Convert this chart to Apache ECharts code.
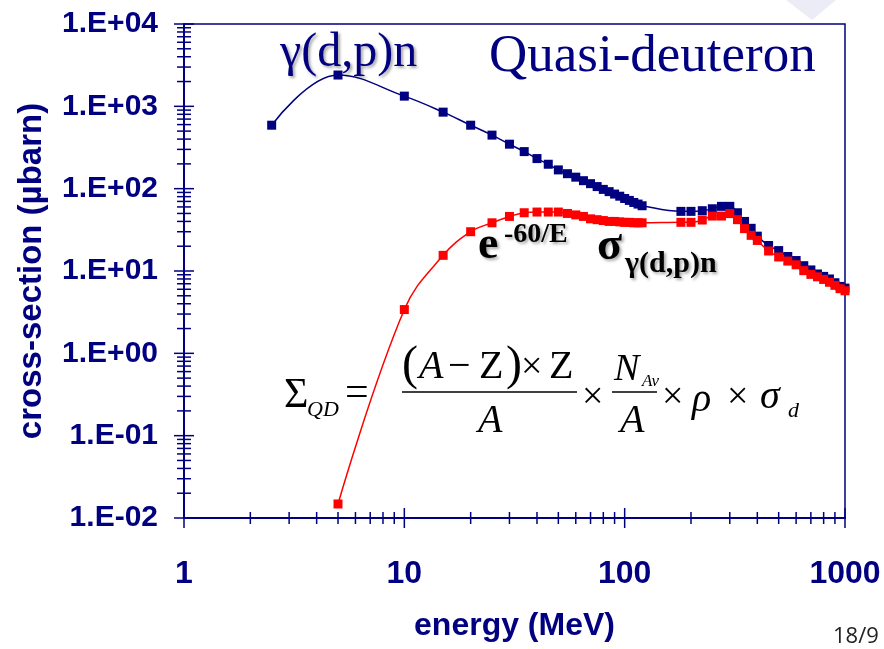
<!DOCTYPE html>
<html><head><meta charset="utf-8">
<script src="https://cdn.jsdelivr.net/npm/echarts@6/dist/echarts.min.js"></script>
<style>html,body{margin:0;padding:0;background:#fff;}#c{width:884px;height:649px;}</style>
</head><body><div id="c"></div>
<script>
// ---- data ----
const energyTotal = [2.5, 5, 10, 15, 20, 25, 30, 35, 40, 45, 50, 55, 60, 65, 70, 75, 80, 85, 90, 95, 100, 105, 110, 115, 120, 180, 200, 225, 250, 275, 300, 325, 350, 375, 400, 450, 500, 550, 600, 650, 700, 750, 800, 850, 900, 950, 1000];
const sigmaTotal = [590, 2400, 1330, 850, 590, 447, 347, 282, 232, 198, 169, 152, 138, 125, 115, 106, 98, 92, 86, 81, 76, 72, 68, 65, 62, 53, 53, 54, 57, 61, 61, 51, 40, 33, 26.5, 20.4, 17.7, 15.0, 13.4, 11.6, 10.3, 9.2, 8.6, 8.0, 7.2, 6.5, 6.2];
const energyQD = [5, 10, 15, 20, 25, 30, 35, 40, 45, 50, 55, 60, 65, 70, 75, 80, 85, 90, 95, 100, 105, 110, 115, 120, 180, 200, 225, 250, 275, 300, 325, 350, 375, 400, 450, 500, 550, 600, 650, 700, 750, 800, 850, 900, 950, 1000];
const sigmaQD = [0.0148, 3.4, 15.5, 30, 38.5, 46, 51, 52, 52, 52, 50, 48, 46, 43, 42, 41, 40, 40, 39.5, 39, 39, 38.5, 38.5, 38.5, 39, 39, 41.6, 46.5, 46.5, 49.8, 42, 32.7, 27.1, 23.5, 17.5, 14.8, 13.2, 11.9, 10.1, 9.1, 8.5, 7.9, 7.3, 6.7, 6.1, 5.75];
const xMajorTicks = [1, 10, 100, 1000];
const xMinorTicks = [2,3,4,5,6,7,8,9,20,30,40,50,60,70,80,90,200,300,400,500,600,700,800,900];
const yMajorTicks = [0.01, 0.1, 1, 10, 100, 1000, 10000];
const yTickLabels = ['1.E-02','1.E-01','1.E+00','1.E+01','1.E+02','1.E+03','1.E+04'];
const yMinorTicks = [];
[0.01, 0.1, 1, 10, 100, 1000].forEach(d => { for (let k = 2; k <= 9; k++) yMinorTicks.push(+(d * k).toPrecision(3)); });

const NAVY = '#000080';
const RED = '#ff0000';
const X_MIN = 1, X_MAX = 1000, Y_MIN = 0.01, Y_MAX = 10000;

function tickSeries(values, axis, half) {
  return {
    type: 'custom', silent: true, clip: false, z: 6,
    data: values.map(v => axis === 'x' ? [v, Y_MIN] : [X_MIN, v]),
    renderItem: (params, api) => {
      const p = api.coord([api.value(0), api.value(1)]);
      const shape = axis === 'x'
        ? { x1: p[0], y1: p[1] - half, x2: p[0], y2: p[1] + half }
        : { x1: p[0] - half, y1: p[1], x2: p[0] + half, y2: p[1] };
      return { type: 'line', shape, style: { stroke: NAVY, lineWidth: 1.5 } };
    }
  };
}

const sans = '"Liberation Sans",Arial,sans-serif';
const serif = '"Liberation Serif","Times New Roman",serif';
const shadow = { textShadowColor: 'rgba(0,0,0,0.35)', textShadowBlur: 3, textShadowOffsetX: 2, textShadowOffsetY: 2 };
function txt(x, y, text, font, fill, extra) {
  return { type: 'text', x, y, z: 10, style: Object.assign({ text, font, fill: fill || '#000', align: 'left', verticalAlign: 'middle' }, extra || {}) };
}

const chart = echarts.init(document.getElementById('c'), null, { renderer: 'canvas' });
chart.setOption({
  backgroundColor: '#fff',
  animation: false,
  grid: { left: 184, right: 39, top: 24, bottom: 131, show: true, borderColor: NAVY, borderWidth: 1.5, backgroundColor: 'transparent' },
  xAxis: {
    type: 'log', logBase: 10, min: X_MIN, max: X_MAX, interval: 1,
    name: 'energy (MeV)', nameLocation: 'middle', nameGap: 92,
    nameTextStyle: { color: NAVY, fontSize: 32, fontWeight: 'bold', fontFamily: sans },
    axisLine: { lineStyle: { color: NAVY, width: 2 } },
    axisTick: { show: false },
    splitLine: { show: false },
    axisLabel: { margin: 40, color: NAVY, fontSize: 32, fontWeight: 'bold', fontFamily: sans, formatter: v => String(v) }
  },
  yAxis: {
    type: 'log', logBase: 10, min: Y_MIN, max: Y_MAX, interval: 1,
    name: 'cross-section (µbarn)', nameLocation: 'middle', nameGap: 136, nameRotate: 90,
    nameTextStyle: { color: NAVY, fontSize: 33, fontWeight: 'bold', fontFamily: sans },
    axisLine: { lineStyle: { color: NAVY, width: 2 } },
    axisTick: { show: false },
    splitLine: { show: false },
    axisLabel: { margin: 26, color: NAVY, fontSize: 30, fontWeight: 'bold', fontFamily: sans,
      formatter: v => yTickLabels[Math.round(Math.log10(v)) + 2] }
  },
  series: [
    tickSeries(xMajorTicks, 'x', 10),
    tickSeries(xMinorTicks, 'x', 6),
    tickSeries(yMajorTicks, 'y', 10),
    tickSeries(yMinorTicks, 'y', 7),
    {
      name: 'γ(d,p)n', type: 'line', smooth: 0.4, symbol: 'rect', symbolSize: 9, showAllSymbol: true,
      itemStyle: { color: NAVY }, lineStyle: { color: NAVY, width: 1.5 },
      data: energyTotal.map((e, i) => [e, sigmaTotal[i]]), z: 3
    },
    {
      name: 'quasi-deuteron', type: 'line', smooth: 0.4, symbol: 'rect', symbolSize: 9, showAllSymbol: true,
      itemStyle: { color: RED }, lineStyle: { color: RED, width: 1.5 },
      data: energyQD.map((e, i) => [e, sigmaQD[i]]), z: 4
    }
  ],
  graphic: [
    { type: 'polygon', shape: { points: [[786, 0], [836, 0], [812, 20]] }, style: { fill: '#ececf6' }, z: 0 },
    txt(280, 53, 'γ(d,p)n', '48px ' + serif, NAVY, shadow),
    txt(489, 57, 'Quasi-deuteron', '53px ' + serif, NAVY),
    txt(478, 246, 'e', 'bold 46px ' + serif, '#000', shadow),
    txt(504, 235, '-60/E', 'bold 28px ' + serif, '#000', shadow),
    txt(597, 247, 'σ', 'bold 46px ' + serif, '#000', shadow),
    txt(625, 264, 'γ(d,p)n', 'bold 30px ' + serif, '#000', shadow),
    // formula
    txt(284, 396, 'Σ', '42px ' + serif),
    txt(307, 410, 'QD', 'italic 22px ' + serif),
    txt(345, 394, '=', '42px ' + serif),
    txt(402, 366, '(', '48px ' + serif),
    txt(419, 367, 'A', 'italic 40px ' + serif),
    txt(448, 367, '−', '40px ' + serif),
    txt(479, 367, 'Z', '40px ' + serif),
    txt(506, 366, ')', '48px ' + serif),
    txt(521, 368, '×', '38px ' + serif),
    txt(549, 367, 'Z', '40px ' + serif),
    { type: 'line', shape: { x1: 402, y1: 392, x2: 577, y2: 392 }, style: { stroke: '#000', lineWidth: 1.5 }, z: 10 },
    txt(478, 421, 'A', 'italic 40px ' + serif),
    txt(582, 398, '×', '38px ' + serif),
    txt(614, 370, 'N', 'italic 38px ' + serif),
    txt(642, 382, 'Av', 'italic 17px ' + serif),
    { type: 'line', shape: { x1: 612, y1: 392, x2: 657, y2: 392 }, style: { stroke: '#000', lineWidth: 1.5 }, z: 10 },
    txt(620, 421, 'A', 'italic 40px ' + serif),
    txt(662, 398, '×', '38px ' + serif),
    txt(692, 400, 'ρ', 'italic 40px ' + serif),
    txt(727, 398, '×', '38px ' + serif),
    txt(760, 397, 'σ', 'italic 40px ' + serif),
    txt(788, 411, 'd', 'italic 22px ' + serif),
    // page number
    txt(833, 637, '18/9', '22px "Open Sans","DejaVu Sans",sans-serif', '#222')
  ]
});
</script></body></html>
